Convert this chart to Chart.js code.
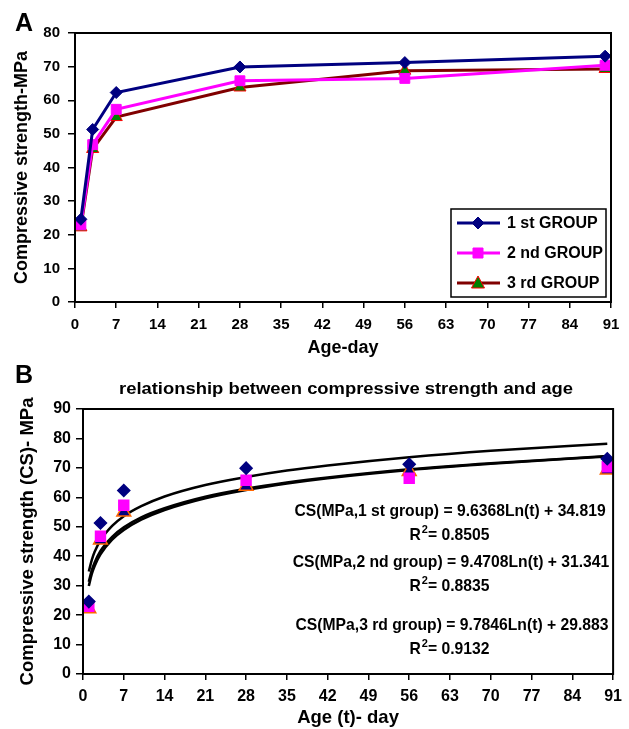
<!DOCTYPE html>
<html lang="en">
<head>
    <meta charset="UTF-8">
    <title>Compressive strength vs age</title>
    <script src="https://cdn.jsdelivr.net/npm/chart.js"></script>
    <style>
        body {
            margin: 0;
            background-color: #fff;
        }

        #wrap {
            position: relative;
            width: 629px;
            height: 729px;
        }

        canvas {
            position: absolute;
            left: 0;
        }
    </style>
</head>
<body>
    <div id="wrap">
        <canvas id="chartA" width="629" height="360" style="top:0"></canvas>
        <canvas id="chartB" width="629" height="369" style="top:360px"></canvas>
    </div>

    <script>
        // data
        var days = [1, 3, 7, 28, 56, 90];
        var group1 = [24.6, 51.3, 62.3, 69.9, 71.2, 73.1];
        var group2 = [23.0, 46.8, 57.3, 65.8, 66.5, 70.4];
        var group3 = [22.2, 45.5, 55.0, 63.8, 68.8, 69.3];
        var groupNames = ['1 st GROUP', '2 nd GROUP', '3 rd GROUP'];
        var dayTicks = [0, 7, 14, 21, 28, 35, 42, 49, 56, 63, 70, 77, 84, 91];

        // log trendlines (panel B)
        var trendDays = [1, 1.5, 2, 3, 5, 7, 10, 14, 21, 28, 35, 42, 56, 70, 90];
        var trend1 = [34.8, 38.7, 41.5, 45.4, 50.3, 53.6, 57.0, 60.3, 64.2, 66.9, 69.1, 70.8, 73.6, 75.8, 78.2];
        var trend2 = [31.3, 35.2, 37.9, 41.8, 46.6, 49.8, 53.2, 56.3, 60.2, 62.9, 65.0, 66.7, 69.5, 71.6, 74.0];
        var trend3 = [29.9, 33.9, 36.7, 40.6, 45.6, 48.9, 52.4, 55.7, 59.7, 62.5, 64.7, 66.5, 69.3, 71.4, 73.9];

        var equations = [
            ['CS(MPa,1 st group) = 9.6368Ln(t) + 34.819', '0.8505'],
            ['CS(MPa,2 nd group) = 9.4708Ln(t) + 31.341', '0.8835'],
            ['CS(MPa,3 rd group) = 9.7846Ln(t) + 29.883', '0.9132']
        ];

        var FONT = 'Arial, "Liberation Sans", sans-serif';

        function pts(xs, ys) {
            return xs.map(function (x, i) { return { x: x, y: ys[i] }; });
        }

        // frame around the plot area + panel letter
        function framePlugin(letter, letterY) {
            return {
                id: 'frame' + letter,
                afterDraw: function (chart) {
                    var ctx = chart.ctx, a = chart.chartArea;
                    ctx.save();
                    ctx.strokeStyle = '#000';
                    ctx.lineWidth = 2;
                    ctx.strokeRect(a.left, a.top, a.right - a.left, a.bottom - a.top);
                    ctx.fillStyle = '#000';
                    ctx.font = 'bold 25px ' + FONT;
                    ctx.textBaseline = 'alphabetic';
                    ctx.fillText(letter, 15, letterY);
                    ctx.restore();
                }
            };
        }

        function xScale(fontSize, title, height, tickPad, titleSize, titlePad) {
            return {
                type: 'linear',
                min: 0,
                max: 91,
                afterBuildTicks: function (s) { s.ticks = dayTicks.map(function (v) { return { value: v }; }); },
                afterFit: function (s) { s.height = height; },
                border: { display: false },
                grid: { drawOnChartArea: false, drawTicks: true, tickLength: 6, color: '#000', lineWidth: 1.5 },
                ticks: { color: '#000', font: { family: FONT, size: fontSize, weight: 'bold' }, padding: tickPad, maxRotation: 0 },
                title: { display: true, text: title, color: '#000', font: { family: FONT, size: titleSize, weight: 'bold' }, padding: { top: 0, bottom: titlePad } }
            };
        }

        function yScale(max, fontSize, title, width, tickPad, titleSize, titlePad) {
            return {
                min: 0,
                max: max,
                ticks: { stepSize: 10, color: '#000', font: { family: FONT, size: fontSize, weight: 'bold' }, padding: tickPad },
                afterFit: function (s) { s.width = width; },
                border: { display: false },
                grid: { drawOnChartArea: false, drawTicks: true, tickLength: 7, color: '#000', lineWidth: 1.5 },
                title: { display: true, text: title, color: '#000', font: { family: FONT, size: titleSize, weight: 'bold' }, padding: { top: titlePad, bottom: 0 } }
            };
        }

        // ---------- Panel A ----------
        var styleA = [
            { line: '#000080', fill: '#000080', edge: '#000080', shape: 'rectRot', r: 6 },
            { line: '#ff00ff', fill: '#ff00ff', edge: '#ff00ff', shape: 'rect', r: 7 },
            { line: '#800000', fill: '#008000', edge: '#ff0000', shape: 'triangle', r: 7 }
        ];

        var legendA = {
            id: 'legendA',
            afterDraw: function (chart) {
                var ctx = chart.ctx;
                ctx.save();
                ctx.fillStyle = '#fff';
                ctx.fillRect(451, 209, 155, 88);
                ctx.strokeStyle = '#000';
                ctx.lineWidth = 1.5;
                ctx.strokeRect(451, 209, 155, 88);
                var rows = [223, 253, 283];
                rows.forEach(function (y, i) {
                    var st = styleA[i];
                    ctx.strokeStyle = st.line;
                    ctx.lineWidth = 3;
                    ctx.beginPath();
                    ctx.moveTo(457, y);
                    ctx.lineTo(500, y);
                    ctx.stroke();
                    ctx.fillStyle = st.fill;
                    ctx.strokeStyle = st.edge;
                    ctx.lineWidth = 1;
                    ctx.beginPath();
                    if (st.shape === 'rectRot') {
                        ctx.moveTo(478, y - 6); ctx.lineTo(484, y); ctx.lineTo(478, y + 6); ctx.lineTo(472, y);
                    } else if (st.shape === 'rect') {
                        ctx.rect(473, y - 5, 10, 10);
                    } else {
                        ctx.moveTo(478, y - 7); ctx.lineTo(484.5, y + 5); ctx.lineTo(471.5, y + 5);
                    }
                    ctx.closePath();
                    ctx.fill();
                    ctx.stroke();
                    ctx.fillStyle = '#000';
                    ctx.font = 'bold 16px ' + FONT;
                    ctx.textBaseline = 'middle';
                    ctx.fillText(groupNames[i], 507, y + 1);
                });
                ctx.restore();
            }
        };

        new Chart(document.getElementById('chartA').getContext('2d'), {
            type: 'line',
            data: {
                datasets: [group1, group2, group3].map(function (g, i) {
                    var st = styleA[i];
                    return {
                        label: groupNames[i],
                        data: pts(days, g),
                        borderColor: st.line,
                        borderWidth: 3,
                        pointStyle: st.shape,
                        pointRadius: st.r,
                        pointBackgroundColor: st.fill,
                        pointBorderColor: st.edge,
                        pointBorderWidth: 1,
                        tension: 0
                    };
                })
            },
            options: {
                responsive: false,
                animation: false,
                layout: { padding: { left: 0, right: 18, top: 33, bottom: 0 } },
                plugins: { legend: { display: false }, tooltip: { enabled: false } },
                scales: {
                    x: xScale(15, 'Age-day', 58, 8, 18, 1),
                    y: yScale(80, 15, 'Compressive strength-MPa', 75, 8, 18, 11)
                }
            },
            plugins: [framePlugin('A', 31), legendA]
        });

        // ---------- Panel B ----------
        var styleB = [
            { fill: '#000080', edge: '#000080', shape: 'rectRot', r: 6 },
            { fill: '#ff00ff', edge: '#ff00ff', shape: 'rect', r: 7 },
            { fill: '#000080', edge: '#ff6600', shape: 'triangle', r: 8 }
        ];

        var textB = {
            id: 'textB',
            afterDraw: function (chart) {
                var ctx = chart.ctx;
                ctx.save();
                ctx.fillStyle = '#000';
                ctx.textBaseline = 'middle';
                ctx.textAlign = 'center';
                // title is a little wider than tall in the figure
                ctx.save();
                ctx.translate(346, 30);
                ctx.scale(1.15, 1);
                ctx.font = 'bold 16px ' + FONT;
                ctx.fillText('relationship between compressive strength and age', 0, 0);
                ctx.restore();

                var eqY = [152, 203, 266];
                var eqX = [450, 451, 452];
                equations.forEach(function (eq, i) {
                    ctx.textAlign = 'center';
                    ctx.font = 'bold 15.7px ' + FONT;
                    ctx.fillText(eq[0], eqX[i], eqY[i]);
                    // R² line
                    var y = eqY[i] + 24;
                    var w1 = ctx.measureText('R').width;
                    ctx.font = 'bold 11px ' + FONT;
                    var w2 = ctx.measureText('2').width;
                    ctx.font = 'bold 15.7px ' + FONT;
                    var rest = '= ' + eq[1];
                    var w3 = ctx.measureText(rest).width;
                    var x0 = 449 - (w1 + w2 + w3) / 2;
                    ctx.textAlign = 'left';
                    ctx.fillText('R', x0, y);
                    ctx.font = 'bold 11px ' + FONT;
                    ctx.fillText('2', x0 + w1 + 1, y - 6);
                    ctx.font = 'bold 15.7px ' + FONT;
                    ctx.fillText(rest, x0 + w1 + w2 + 1, y);
                });
                ctx.restore();
            }
        };

        var pointSets = [group1, group2, group3].map(function (g, i) {
            var st = styleB[i];
            return {
                label: groupNames[i],
                data: pts(days, g),
                showLine: false,
                pointStyle: st.shape,
                pointRadius: st.r,
                pointBackgroundColor: st.fill,
                pointBorderColor: st.edge,
                pointBorderWidth: 1.5,
                order: 1
            };
        });
        var trendSets = [trend1, trend2, trend3].map(function (t) {
            return {
                data: pts(trendDays, t),
                borderColor: '#000',
                borderWidth: 2.5,
                pointRadius: 0,
                cubicInterpolationMode: 'monotone',
                order: 2
            };
        });

        new Chart(document.getElementById('chartB').getContext('2d'), {
            type: 'line',
            data: { datasets: trendSets.concat(pointSets) },
            options: {
                responsive: false,
                animation: false,
                layout: { padding: { left: 0, right: 15, top: 49, bottom: 0 } },
                plugins: { legend: { display: false }, tooltip: { enabled: false } },
                scales: {
                    x: xScale(16, 'Age (t)- day', 55, 7, 18.5, 0),
                    y: yScale(90, 16, 'Compressive strength (CS)- MPa', 83, 5, 18.5, 17)
                }
            },
            plugins: [framePlugin('B', 23), textB]
        });
    </script>
</body>
</html>
